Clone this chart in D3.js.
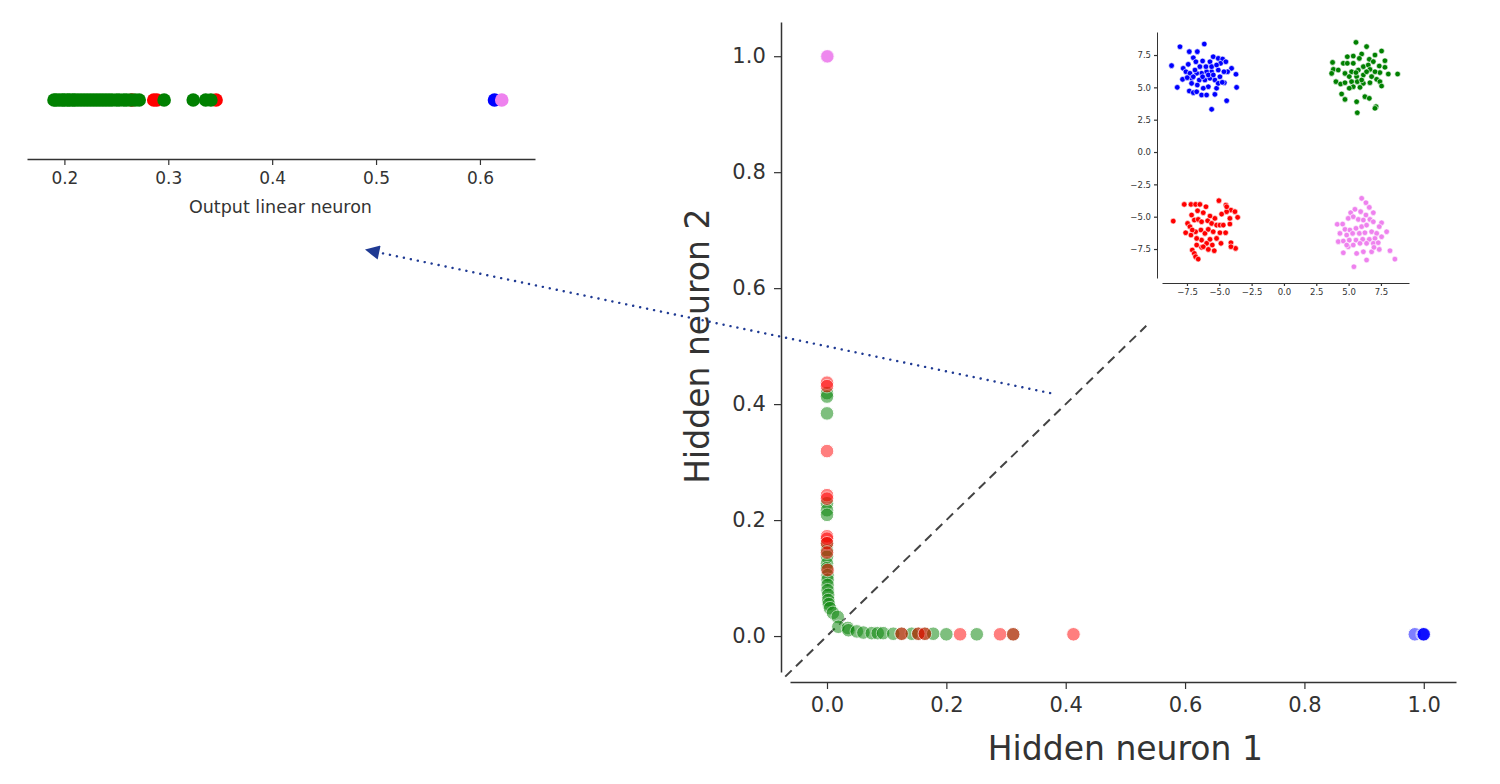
<!DOCTYPE html>
<html>
<head>
<meta charset="utf-8">
<script src="https://cdn.jsdelivr.net/npm/d3@7"></script>
<style>
  body { margin: 0; background: #fff; }
  text { font-family: "DejaVu Sans", sans-serif; fill: #333; }
</style>
</head>
<body>
<div id="chart"></div>
<script>
// output of the linear neuron (strip plot, top left)
const stripRed = [0.265, 0.286, 0.289, 0.346];
const stripGreen = [0.190, 0.192, 0.195, 0.198, 0.200, 0.203, 0.205, 0.208, 0.210, 0.213,
    0.216, 0.219, 0.222, 0.225, 0.228, 0.231, 0.234, 0.237, 0.240, 0.243, 0.246, 0.250,
    0.253, 0.257, 0.260, 0.264, 0.268, 0.272, 0.296, 0.324, 0.336, 0.341];
const stripBlue = [0.614];
const stripViolet = [0.621];
const stripTicks = [0.2, 0.3, 0.4, 0.5, 0.6];

// hidden layer activations [neuron 1, neuron 2]
const hiddenGreen = [[0, 0.419], [0, 0.413], [0, 0.384], [0, 0.229], [0, 0.217], [0, 0.209],
    [0, 0.160], [0, 0.148], [0, 0.137], [0, 0.125], [0, 0.117], [0.001, 0.105], [0.001, 0.097],
    [0.001, 0.088], [0.001, 0.079], [0.002, 0.071], [0.002, 0.062], [0.003, 0.055], [0.005, 0.048],
    [0.010, 0.040], [0.018, 0.033], [0.019, 0.016], [0.035, 0.014], [0.036, 0.010], [0.050, 0.008],
    [0.061, 0.006], [0.075, 0.005], [0.085, 0.005], [0.094, 0.005], [0.111, 0.004], [0.125, 0.004],
    [0.142, 0.004], [0.153, 0.004], [0.164, 0.004], [0.178, 0.004], [0.200, 0.003], [0.251, 0.003],
    [0.312, 0.003]];
const hiddenRed = [[0, 0.437], [0, 0.431], [0, 0.319], [0, 0.243], [0, 0.237], [0, 0.172],
    [0, 0.168], [0, 0.160], [0, 0.144], [0.001, 0.114], [0.125, 0.004], [0.153, 0.004],
    [0.164, 0.004], [0.223, 0.003], [0.290, 0.003], [0.312, 0.003], [0.413, 0.003]];
const hiddenBlue = [[0.985, 0.003], [0.998, 0.003], [0.999, 0.003], [1.0, 0.003], [1.0, 0.003]];
const hiddenViolet = [[0, 1.0], [0, 1.0], [0, 0.999], [0.001, 1.0]];
const hiddenTicks = [0, 0.2, 0.4, 0.6, 0.8, 1.0];

// input blobs (inset)
const blobBlue = [[-6.16, 8.35], [-8.04, 8.14], [-7.32, 7.76], [-6.70, 7.76], [-8.69, 6.68],
    [-7.01, 7.29], [-6.81, 6.98], [-6.29, 7.04], [-5.72, 6.98], [-5.47, 7.37], [-5.08, 7.24],
    [-4.74, 7.19], [-4.90, 6.86], [-4.49, 6.98], [-4.05, 6.47], [-4.36, 6.21], [-3.71, 6.01],
    [-3.66, 5.00], [-8.25, 5.00], [-7.79, 6.47], [-7.58, 6.21], [-7.40, 6.78], [-7.84, 5.62],
    [-7.14, 5.70], [-7.32, 4.72], [-7.01, 4.59], [-6.75, 4.66], [-6.37, 4.41], [-5.98, 4.41],
    [-5.34, 4.46], [-4.43, 3.97], [-5.59, 3.30], [-4.61, 5.36], [-5.21, 4.93], [-5.85, 5.05],
    [-6.24, 4.93], [-6.70, 5.18], [-7.14, 5.31], [-6.55, 5.57], [-6.11, 5.57], [-5.72, 5.70],
    [-5.34, 5.57], [-4.95, 5.82], [-4.64, 6.21], [-5.08, 6.34], [-5.59, 6.21], [-5.98, 6.21],
    [-6.37, 6.09], [-6.75, 6.09], [-6.50, 6.60], [-6.03, 6.60], [-5.59, 6.60], [-5.21, 6.73],
    [-5.85, 5.96], [-5.46, 5.96], [-6.29, 5.82], [-6.88, 6.34], [-7.27, 6.09], [-7.01, 5.82],
    [-7.48, 5.75], [-5.08, 5.31], [-4.77, 5.39]];
const blobGreen = [[5.57, 8.48], [6.39, 8.15], [6.01, 7.58], [7.55, 7.81], [7.04, 7.50],
    [5.36, 7.42], [4.90, 7.37], [5.83, 7.24], [6.60, 7.17], [6.91, 6.99], [7.81, 7.06],
    [3.76, 6.93], [4.59, 6.86], [4.90, 6.86], [3.82, 6.39], [4.20, 6.34], [3.69, 6.08],
    [5.36, 6.86], [6.14, 6.60], [6.52, 6.73], [7.37, 6.65], [7.81, 6.55], [8.07, 6.03],
    [8.79, 6.03], [7.42, 6.14], [7.04, 6.21], [6.65, 6.39], [5.75, 6.34], [5.23, 6.21],
    [4.72, 6.08], [5.05, 5.83], [5.62, 5.83], [6.14, 5.96], [6.78, 5.83], [7.17, 5.62],
    [4.02, 5.44], [4.38, 5.26], [4.72, 5.36], [5.23, 5.44], [5.67, 5.44], [6.14, 5.31],
    [6.65, 5.36], [7.42, 5.44], [5.36, 5.05], [5.88, 5.00], [5.05, 4.93], [4.46, 4.49],
    [4.72, 4.07], [6.26, 4.28], [6.60, 4.15], [5.62, 3.89], [7.12, 3.51], [7.04, 3.38],
    [5.67, 3.04], [7.55, 5.10], [6.39, 6.21], [6.01, 5.57], [5.57, 6.14]];
const blobRed = [[-8.56, -5.34], [-7.71, -4.05], [-7.19, -4.05], [-6.83, -4.05], [-6.50, -4.05],
    [-6.03, -4.23], [-5.03, -3.76], [-4.49, -4.10], [-4.10, -4.49], [-3.79, -4.61], [-3.58, -5.05],
    [-4.43, -4.61], [-4.82, -4.80], [-5.34, -5.13], [-5.72, -4.95], [-6.24, -4.69], [-6.68, -4.54],
    [-7.14, -4.87], [-7.45, -5.52], [-7.27, -5.77], [-6.93, -5.26], [-6.63, -5.21], [-6.37, -5.39],
    [-5.90, -5.31], [-5.59, -5.52], [-5.21, -5.65], [-4.95, -5.65], [-4.69, -5.65], [-4.18, -5.57],
    [-7.60, -6.24], [-7.19, -6.42], [-6.83, -6.16], [-6.42, -6.03], [-6.11, -6.29], [-5.85, -5.98],
    [-5.47, -6.16], [-4.95, -6.24], [-4.51, -6.24], [-5.21, -6.68], [-5.72, -6.75], [-6.37, -6.81],
    [-6.75, -6.68], [-7.09, -6.03], [-5.98, -7.06], [-5.54, -7.19], [-4.87, -7.06], [-4.10, -7.01],
    [-3.74, -7.45], [-4.10, -7.32], [-6.37, -7.37], [-6.75, -7.19], [-7.09, -7.58], [-6.93, -7.84],
    [-6.83, -8.09], [-6.63, -8.28], [-5.39, -7.63], [-5.85, -7.53], [-6.24, -7.32], [-4.18, -5.13],
    [-4.43, -4.23]];
const blobViolet = [[6.01, -3.58], [6.34, -3.92], [6.60, -4.28], [5.49, -4.43], [5.16, -4.69],
    [5.93, -4.61], [6.34, -4.87], [6.91, -4.69], [4.12, -5.59], [4.54, -5.57], [4.97, -5.13],
    [5.36, -5.00], [5.75, -5.21], [6.14, -5.26], [6.65, -5.21], [6.91, -5.39], [7.55, -5.47],
    [7.37, -5.77], [7.94, -6.16], [4.72, -5.98], [5.10, -6.03], [5.57, -5.90], [6.01, -5.77],
    [6.39, -5.65], [4.33, -6.29], [4.85, -6.42], [5.31, -6.29], [5.83, -6.29], [6.26, -6.24],
    [6.78, -6.16], [7.17, -6.29], [4.20, -6.93], [4.59, -6.88], [5.05, -6.81], [5.57, -6.81],
    [6.09, -6.75], [6.60, -6.75], [7.04, -6.68], [7.55, -6.55], [4.59, -7.79], [4.97, -7.32],
    [5.36, -7.19], [5.88, -7.06], [6.39, -7.06], [6.91, -7.06], [7.29, -7.01], [5.62, -7.84],
    [6.14, -7.71], [6.78, -7.71], [7.37, -7.53], [8.20, -7.63], [6.39, -8.35], [8.58, -8.28],
    [5.41, -8.87], [6.96, -7.37], [4.85, -7.19]];
const blobTicks = [-7.5, -5.0, -2.5, 0.0, 2.5, 5.0, 7.5];

const colors = { red: "#ff0000", green: "#008000", blue: "#0000ff", violet: "#ee82ee" };

const svg = d3.select("#chart").append("svg")
    .attr("width", 1500)
    .attr("height", 784);

function styleAxis(g, fontSize) {
    g.select(".domain").attr("stroke", "#333").attr("stroke-width", 1.5);
    g.selectAll(".tick line").attr("stroke", "#333").attr("stroke-width", 1.2);
    g.selectAll(".tick text")
        .attr("fill", "#333")
        .style("font-family", "DejaVu Sans")
        .style("font-size", fontSize + "px");
}

// ---------- strip plot (top left) ----------
let sx = d3.scaleLinear().domain([0.164, 0.653]).range([27, 535]);
const stripY = 100;

let stripAxis = svg.append("g")
    .attr("transform", "translate(0,159)")
    .call(d3.axisBottom(sx).tickValues(stripTicks).tickFormat(d3.format(".1f")).tickSize(6).tickSizeOuter(0));
styleAxis(stripAxis, 17);
stripAxis.selectAll(".tick text").attr("dy", "0.95em");

svg.append("text")
    .attr("x", sx(0.408)).attr("y", 213)
    .attr("text-anchor", "middle")
    .style("font-size", "17.5px")
    .text("Output linear neuron");

[[stripRed, colors.red], [stripGreen, colors.green], [stripBlue, colors.blue], [stripViolet, colors.violet]]
    .forEach(([vals, c]) => {
        svg.append("g").selectAll("circle")
            .data(vals)
            .enter()
            .append("circle")
            .attr("cx", d => sx(d))
            .attr("cy", stripY)
            .attr("r", 6.8)
            .attr("fill", c);
    });

// ---------- main plot ----------
let x = d3.scaleLinear().domain([-0.062, 1.054]).range([790, 1456]);
let y = d3.scaleLinear().domain([-0.062, 1.059]).range([672, 22]);

let xAxis = svg.append("g")
    .attr("transform", "translate(0,682)")
    .call(d3.axisBottom(x).tickValues(hiddenTicks).tickFormat(d3.format(".1f")).tickSize(7).tickSizeOuter(0));
styleAxis(xAxis, 21);
xAxis.selectAll(".tick text").attr("dy", "0.95em");

let yAxis = svg.append("g")
    .attr("transform", "translate(781,0)")
    .call(d3.axisLeft(y).tickValues(hiddenTicks).tickFormat(d3.format(".1f")).tickSize(7).tickSizeOuter(0));
styleAxis(yAxis, 21);
yAxis.selectAll(".tick text").attr("dx", "-0.25em");

svg.append("text")
    .attr("x", x(0.5)).attr("y", 760)
    .attr("text-anchor", "middle")
    .style("font-size", "33px")
    .text("Hidden neuron 1");

svg.append("text")
    .attr("transform", "translate(709," + y(0.5) + ")rotate(-90)")
    .attr("text-anchor", "middle")
    .style("font-size", "33px")
    .text("Hidden neuron 2");

// y = x reference line
const diag = [-0.07, 0.535];
svg.append("line")
    .attr("x1", x(diag[0])).attr("y1", y(diag[0]))
    .attr("x2", x(diag[1])).attr("y2", y(diag[1]))
    .attr("stroke", "#444")
    .attr("stroke-width", 2)
    .attr("stroke-dasharray", "9,6");

[[hiddenGreen, colors.green], [hiddenRed, colors.red], [hiddenBlue, colors.blue], [hiddenViolet, colors.violet]]
    .forEach(([pts, c]) => {
        svg.append("g").selectAll("circle")
            .data(pts)
            .enter()
            .append("circle")
            .attr("cx", d => x(d[0]))
            .attr("cy", d => y(d[1]))
            .attr("r", 6.8)
            .attr("fill", c)
            .attr("stroke", "#fff")
            .attr("stroke-width", 1)
            .attr("opacity", 0.5);
    });

// dotted arrow from the hidden space to the output strip
const arrowFrom = [0.374, 0.419], arrowTo = [-0.772, 0.666];
svg.append("defs").append("marker")
    .attr("id", "head")
    .attr("viewBox", "0 0 10 10")
    .attr("refX", 2).attr("refY", 5)
    .attr("markerWidth", 6.5).attr("markerHeight", 6)
    .attr("markerUnits", "strokeWidth")
    .attr("orient", "auto")
    .append("path")
    .attr("d", "M0,0L10,5L0,10z")
    .attr("fill", "#1f3a93");

svg.append("line")
    .attr("x1", x(arrowFrom[0])).attr("y1", y(arrowFrom[1]))
    .attr("x2", x(arrowTo[0]) + 10).attr("y2", y(arrowTo[1]) + 2.1)
    .attr("stroke", "#1f3a93")
    .attr("stroke-width", 2.4)
    .attr("stroke-linecap", "round")
    .attr("stroke-dasharray", "0.1,7")
    .attr("marker-end", "url(#head)");

// ---------- inset: input blobs ----------
let ix = d3.scaleLinear().domain([-9.43, 9.67]).range([1162, 1409]);
let iy = d3.scaleLinear().domain([-9.74, 9.28]).range([278, 32]);

let ixAxis = svg.append("g")
    .attr("transform", "translate(0,283)")
    .call(d3.axisBottom(ix).tickValues(blobTicks).tickFormat(d3.format(".1f")).tickSize(3).tickSizeOuter(0));
styleAxis(ixAxis, 8.5);
ixAxis.select(".domain").attr("stroke-width", 1);

let iyAxis = svg.append("g")
    .attr("transform", "translate(1157,0)")
    .call(d3.axisLeft(iy).tickValues(blobTicks).tickFormat(d3.format(".1f")).tickSize(3).tickSizeOuter(0));
styleAxis(iyAxis, 8.5);
iyAxis.select(".domain").attr("stroke-width", 1);

[[blobBlue, colors.blue], [blobGreen, colors.green], [blobRed, colors.red], [blobViolet, colors.violet]]
    .forEach(([pts, c]) => {
        svg.append("g").selectAll("circle")
            .data(pts)
            .enter()
            .append("circle")
            .attr("cx", d => ix(d[0]))
            .attr("cy", d => iy(d[1]))
            .attr("r", 2.8)
            .attr("fill", c)
            .attr("stroke", "#fff")
            .attr("stroke-width", 0.6);
    });
</script>
</body>
</html>
